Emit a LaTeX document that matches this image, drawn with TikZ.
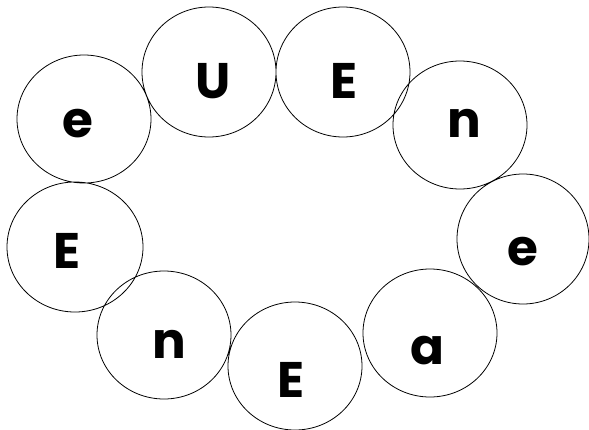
\documentclass[tikz,border=0pt]{standalone}
\usepackage{fontspec}
\setmainfont{Poppins}
\begin{document}
\begin{tikzpicture}[x=1pt,y=-1pt,
  ring/.style={draw=black,line width=0.8pt,ellipse,minimum width=134pt,minimum height=128pt,inner sep=0pt},
  letter/.style={anchor=base,inner sep=0pt,font=\fontsize{50}{50}\selectfont\bfseries}]
\useasboundingbox (0,0) rectangle (589,429);
\path[draw=black,line width=0.8pt]
  (84,119) ellipse [x radius=67,y radius=64]
  (209,72) ellipse [x radius=67,y radius=65]
  (343,72) ellipse [x radius=67,y radius=65]
  (460,125) ellipse [x radius=67,y radius=64]
  (523,239) ellipse [x radius=66,y radius=65]
  (430,333) ellipse [x radius=67,y radius=64]
  (295,366) ellipse [x radius=67,y radius=64]
  (164,335) ellipse [x radius=67,y radius=64]
  (75,247) ellipse [x radius=68,y radius=65];
\node[letter] (l1) at (78,137) {e};
\node[letter] (l2) at (213,98) {U};
\node[letter] (l3) at (344,98) {E};
\node[letter] (l4) at (464,137) {n};
\node[letter] (l5) at (523,265) {e};
\node[letter] (l6) at (427,364) {a};
\node[letter] (l7) at (291,397) {E};
\node[letter] (l8) at (169,358) {n};
\node[letter] (l9) at (67,268) {E};
\end{tikzpicture}
\end{document}
